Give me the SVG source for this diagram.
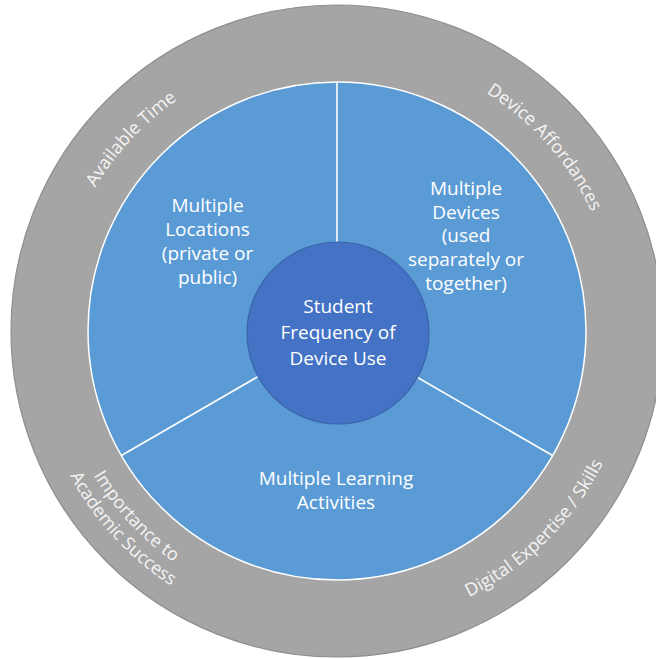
<svg xmlns="http://www.w3.org/2000/svg" width="656" height="659" viewBox="0 0 656 659">
  <style>
    .ring { fill: #a5a5a5; stroke: #8e8e8e; stroke-width: 1.2; }
    .disk { fill: #5b9bd5; stroke: #ffffff; stroke-width: 1.5; }
    .core { fill: #4472c4; stroke: #3b63ab; stroke-width: 1.2; }
    .divider { stroke: #ffffff; stroke-width: 1.6; fill: none; }
    .label { font-family: "Open Sans", "Liberation Sans", sans-serif; font-size: 19px; fill: #ffffff; text-anchor: middle; }
    .arc-label { font-family: "Open Sans", "Liberation Sans", sans-serif; font-size: 18px; fill: #f4f4f4; text-anchor: middle; }
  </style>
  <defs>
    <!-- baselines for the text that follows the outer ring -->
    <path id="arc-time" d="M56.4,316.3 A281,281 0 0 1 302.8,52.1"/>
    <path id="arc-afford" d="M378.5,53.1 A281,281 0 0 1 617.9,323.6"/>
    <path id="arc-skills" d="M362.9,626.9 A297,297 0 0 0 632.9,356.9"/>
    <path id="arc-importance" d="M54.3,344.3 A283,283 0 0 0 301.0,611.7"/>
    <path id="arc-academic" d="M33.3,345.3 A304,304 0 0 0 298.4,632.5"/>
  </defs>

  <!-- outer ring of influencing factors -->
  <g id="outer-ring">
    <circle class="ring" cx="337" cy="331" r="326"/>
    <text class="arc-label"><textPath href="#arc-time" startOffset="50%">Available Time</textPath></text>
    <text class="arc-label"><textPath href="#arc-afford" startOffset="50%">Device Affordances</textPath></text>
    <text class="arc-label"><textPath href="#arc-skills" startOffset="50%">Digital Expertise / Skills</textPath></text>
    <text class="arc-label"><textPath href="#arc-importance" startOffset="50%">Importance to</textPath></text>
    <text class="arc-label"><textPath href="#arc-academic" startOffset="50%">Academic Success</textPath></text>
  </g>

  <!-- middle disk -->
  <g id="middle-disk">
    <circle class="disk" cx="337" cy="331" r="249"/>
  </g>

  <!-- dividers between the three sectors -->
  <g id="connectors">
    <line class="divider" x1="337" y1="82" x2="337" y2="331"/>
    <line class="divider" x1="121.4" y1="455.5" x2="337" y2="331"/>
    <line class="divider" x1="552.6" y1="455.5" x2="337" y2="331"/>
  </g>

  <g id="locations">
    <text class="label" x="207.5" y="212">Multiple</text>
    <text class="label" x="207.5" y="236">Locations</text>
    <text class="label" x="207.5" y="260">(private or</text>
    <text class="label" x="207.5" y="284">public)</text>
  </g>

  <g id="devices">
    <text class="label" x="466" y="195">Multiple</text>
    <text class="label" x="466" y="219">Devices</text>
    <text class="label" x="466" y="242">(used</text>
    <text class="label" x="466" y="266">separately or</text>
    <text class="label" x="466" y="290">together)</text>
  </g>

  <g id="activities">
    <text class="label" x="336" y="485">Multiple Learning</text>
    <text class="label" x="336" y="508.5">Activities</text>
  </g>

  <!-- central node -->
  <g id="core">
    <circle class="core" cx="338" cy="333" r="91"/>
    <text class="label" x="338" y="313">Student</text>
    <text class="label" x="338" y="339">Frequency of</text>
    <text class="label" x="338" y="365">Device Use</text>
  </g>
</svg>
